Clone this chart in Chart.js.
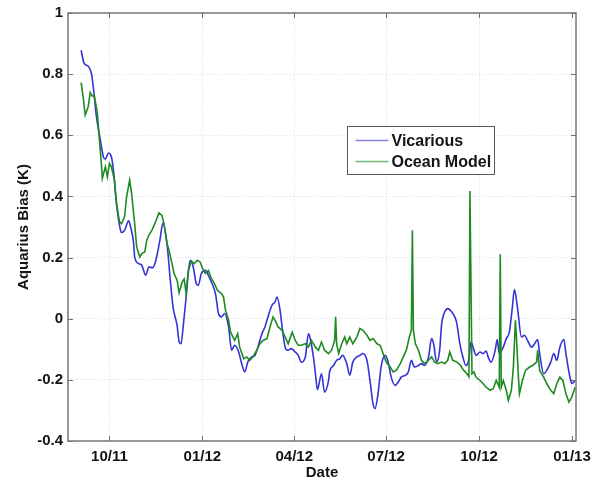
<!DOCTYPE html>
<html>
<head>
<meta charset="utf-8">
<script src="https://cdn.jsdelivr.net/npm/chart.js@4.4.1/dist/chart.umd.min.js"></script>
<style>
  html, body { margin: 0; padding: 0; background: #fff; }
  #wrap { width: 593px; height: 482px; position: relative; }
</style>
</head>
<body>
<div id="wrap"><canvas id="c" width="593" height="482"></canvas></div>
<script>
// Aquarius radiometer bias (K) derived two ways
const seriesNames = ['Vicarious', 'Ocean Model'];

const vicDates = [
  '2011-09-03','2011-09-06','2011-09-10','2011-09-13','2011-09-15','2011-09-18','2011-09-22','2011-09-25','2011-09-27','2011-09-30',
  '2011-10-03','2011-10-05','2011-10-08','2011-10-12','2011-10-13','2011-10-16','2011-10-20','2011-10-22','2011-10-25','2011-10-26','2011-10-30',
  '2011-11-02','2011-11-06','2011-11-09','2011-11-13','2011-11-16','2011-11-20','2011-11-23','2011-11-27','2011-11-30',
  '2011-12-03','2011-12-07','2011-12-09','2011-12-11','2011-12-13','2011-12-16','2011-12-18','2011-12-20','2011-12-23','2011-12-26','2011-12-28','2011-12-31',
  '2012-01-04','2012-01-07','2012-01-10','2012-01-14','2012-01-17','2012-01-20','2012-01-23','2012-01-27','2012-01-30',
  '2012-02-02','2012-02-06','2012-02-09','2012-02-12','2012-02-15','2012-02-19','2012-02-22','2012-02-25','2012-02-29',
  '2012-03-03','2012-03-06','2012-03-10','2012-03-13','2012-03-15','2012-03-18','2012-03-20','2012-03-23','2012-03-26','2012-03-29',
  '2012-04-02','2012-04-05','2012-04-08','2012-04-12','2012-04-15','2012-04-16','2012-04-20','2012-04-22','2012-04-24','2012-04-28',
  '2012-05-01','2012-05-05','2012-05-06','2012-05-10','2012-05-13','2012-05-16','2012-05-19','2012-05-23','2012-05-26','2012-05-29',
  '2012-06-02','2012-06-05','2012-06-08','2012-06-12','2012-06-15','2012-06-18','2012-06-20','2012-06-23','2012-06-26','2012-06-30',
  '2012-07-03','2012-07-06','2012-07-10','2012-07-13','2012-07-16','2012-07-20','2012-07-23','2012-07-26','2012-07-29',
  '2012-08-02','2012-08-05','2012-08-08','2012-08-12','2012-08-15','2012-08-17','2012-08-20','2012-08-23','2012-08-25','2012-08-28','2012-08-31',
  '2012-09-04','2012-09-07','2012-09-09','2012-09-12','2012-09-15','2012-09-18','2012-09-21','2012-09-23','2012-09-26','2012-09-28',
  '2012-10-02','2012-10-05','2012-10-08','2012-10-10','2012-10-13','2012-10-17','2012-10-19','2012-10-21','2012-10-25','2012-10-28','2012-10-31',
  '2012-11-03','2012-11-05','2012-11-08','2012-11-12','2012-11-15','2012-11-18','2012-11-22','2012-11-25','2012-11-28','2012-11-30',
  '2012-12-04','2012-12-07','2012-12-11','2012-12-14','2012-12-17','2012-12-20','2012-12-24','2012-12-26','2012-12-30',
  '2013-01-01','2013-01-04'
];
const vicValues = [
  0.878,0.835,0.826,0.805,0.760,0.665,0.585,0.530,0.522,0.542,
  0.529,0.486,0.377,0.289,0.282,0.289,0.320,0.300,0.246,0.202,0.180,
  0.175,0.142,0.169,0.167,0.191,0.257,0.313,0.246,0.137,
  0.038,-0.022,-0.075,-0.082,-0.027,0.071,0.148,0.191,0.169,0.115,0.109,0.148,
  0.158,0.142,0.120,0.082,0.017,0.006,0.017,-0.027,-0.103,
  -0.087,-0.109,-0.147,-0.174,-0.142,-0.125,-0.120,-0.093,-0.049,
  -0.027,0.006,0.044,0.055,0.071,0.027,-0.027,-0.093,-0.103,-0.098,
  -0.109,-0.120,-0.142,-0.125,-0.049,-0.054,-0.125,-0.180,-0.232,-0.180,
  -0.240,-0.202,-0.174,-0.153,-0.136,-0.131,-0.120,-0.147,-0.185,-0.142,
  -0.125,-0.120,-0.114,-0.136,-0.202,-0.278,-0.294,-0.245,-0.158,-0.120,
  -0.142,-0.191,-0.218,-0.207,-0.191,-0.185,-0.174,-0.136,-0.158,
  -0.153,-0.147,-0.153,-0.125,-0.065,-0.082,-0.142,-0.103,-0.016,0.022,0.033,
  0.022,0.006,-0.016,-0.082,-0.125,-0.153,-0.131,-0.076,-0.103,-0.120,
  -0.109,-0.114,-0.106,-0.125,-0.142,-0.103,-0.068,-0.114,-0.093,-0.065,-0.044,
  0.038,0.095,0.038,-0.060,-0.054,-0.071,-0.093,-0.082,-0.068,-0.114,
  -0.180,-0.169,-0.142,-0.114,-0.136,-0.093,-0.068,-0.114,-0.191,
  -0.212,-0.202
];

const omDates = [
  '2011-09-03','2011-09-05','2011-09-07','2011-09-10','2011-09-12','2011-09-14','2011-09-16','2011-09-19','2011-09-21','2011-09-23','2011-09-24','2011-09-27','2011-09-29',
  '2011-10-01','2011-10-03','2011-10-06','2011-10-08','2011-10-11','2011-10-13','2011-10-16','2011-10-18','2011-10-21','2011-10-23','2011-10-26','2011-10-28','2011-10-31',
  '2011-11-02','2011-11-05','2011-11-07','2011-11-09','2011-11-12','2011-11-15','2011-11-17','2011-11-19','2011-11-22','2011-11-24','2011-11-27','2011-11-29',
  '2011-12-02','2011-12-04','2011-12-07','2011-12-09','2011-12-12','2011-12-14','2011-12-16','2011-12-18','2011-12-21','2011-12-24','2011-12-27','2011-12-30',
  '2012-01-01','2012-01-04','2012-01-07','2012-01-10','2012-01-13','2012-01-16','2012-01-20','2012-01-22','2012-01-24','2012-01-27','2012-01-29',
  '2012-02-02','2012-02-05','2012-02-07','2012-02-11','2012-02-14','2012-02-17','2012-02-20','2012-02-24','2012-02-27',
  '2012-03-01','2012-03-05','2012-03-08','2012-03-11','2012-03-14','2012-03-16','2012-03-20','2012-03-23','2012-03-26','2012-03-30',
  '2012-04-02','2012-04-05','2012-04-08','2012-04-12','2012-04-15','2012-04-18','2012-04-22','2012-04-25','2012-04-28',
  '2012-05-01','2012-05-05','2012-05-08','2012-05-11','2012-05-12','2012-05-13','2012-05-15','2012-05-18','2012-05-21','2012-05-23','2012-05-26','2012-05-29',
  '2012-06-02','2012-06-05','2012-06-08','2012-06-12','2012-06-15','2012-06-18','2012-06-22','2012-06-25','2012-06-28',
  '2012-07-01','2012-07-05','2012-07-08','2012-07-11','2012-07-15','2012-07-18','2012-07-21','2012-07-24','2012-07-26','2012-07-27','2012-07-28','2012-07-30',
  '2012-08-02','2012-08-05','2012-08-08','2012-08-12','2012-08-15','2012-08-18','2012-08-21','2012-08-25','2012-08-28','2012-08-31',
  '2012-09-02','2012-09-05','2012-09-09','2012-09-12','2012-09-15','2012-09-19','2012-09-21','2012-09-22','2012-09-24','2012-09-26','2012-09-28',
  '2012-10-02','2012-10-05','2012-10-08','2012-10-12','2012-10-15','2012-10-18','2012-10-21','2012-10-22','2012-10-23','2012-10-25','2012-10-28','2012-10-30',
  '2012-11-02','2012-11-04','2012-11-06','2012-11-07','2012-11-09','2012-11-10','2012-11-13','2012-11-16','2012-11-20','2012-11-23','2012-11-27','2012-11-28','2012-11-30',
  '2012-12-04','2012-12-07','2012-12-11','2012-12-14','2012-12-17','2012-12-20','2012-12-23','2012-12-26','2012-12-29',
  '2013-01-01','2013-01-04'
];
const omValues = [
  0.772,0.726,0.666,0.693,0.740,0.728,0.730,0.675,0.590,0.508,0.459,0.497,0.464,
  0.508,0.497,0.453,0.377,0.317,0.311,0.333,0.398,0.453,0.409,0.311,0.235,0.202,
  0.213,0.218,0.257,0.273,0.289,0.311,0.328,0.346,0.338,0.311,0.246,0.224,
  0.180,0.148,0.126,0.085,0.120,0.130,0.082,0.155,0.189,0.180,0.191,0.185,
  0.165,0.148,0.158,0.131,0.115,0.093,0.082,0.071,0.027,-0.005,-0.044,
  -0.071,-0.049,-0.093,-0.131,-0.125,-0.136,-0.125,-0.103,-0.082,
  -0.071,-0.065,-0.027,0.006,-0.011,-0.027,-0.038,-0.060,-0.082,-0.044,
  -0.071,-0.087,-0.087,-0.082,-0.093,-0.071,-0.093,-0.103,-0.076,
  -0.103,-0.114,-0.103,-0.071,0.006,-0.082,-0.114,-0.082,-0.060,-0.082,-0.060,-0.082,
  -0.060,-0.032,-0.038,-0.054,-0.071,-0.065,-0.082,-0.087,-0.114,
  -0.142,-0.158,-0.174,-0.169,-0.147,-0.125,-0.103,-0.060,-0.038,0.289,-0.038,-0.082,
  -0.103,-0.136,-0.147,-0.136,-0.125,-0.142,-0.147,-0.142,-0.147,-0.136,
  -0.109,-0.136,-0.142,-0.150,-0.165,-0.180,-0.190,0.418,-0.180,-0.174,-0.191,
  -0.202,-0.212,-0.224,-0.234,-0.229,-0.202,-0.224,0.211,-0.224,-0.202,-0.234,-0.267,
  -0.234,-0.158,-0.005,-0.060,-0.191,-0.245,-0.202,-0.169,-0.158,-0.153,-0.142,-0.103,-0.169,
  -0.191,-0.212,-0.234,-0.245,-0.212,-0.191,-0.202,-0.245,-0.273,
  -0.256,-0.224
];

// Quarterly date ticks and their labels
const tickDates = ['2011-10-01','2012-01-01','2012-04-01','2012-07-01','2012-10-01','2013-01-01'];
const tickLabels = ['10/11','01/12','04/12','07/12','10/12','01/13'];
const axisStart = '2011-08-21';
const axisEnd = '2013-01-05';

const DAY = 86400000;
const dayNum = s => Date.UTC(+s.slice(0, 4), +s.slice(5, 7) - 1, +s.slice(8, 10)) / DAY;
const toPoints = (d, v) => d.map((s, i) => ({ x: dayNum(s), y: v[i] }));

const FONT = '"Liberation Sans", Arial, Helvetica, sans-serif';
const INK = '#141414';

// Box frame, inward tick marks and the inset legend
const framePlugin = {
  id: 'frame',
  afterDatasetsDraw(chart) {
    const { ctx, chartArea: a, scales: { x, y } } = chart;
    ctx.save();
    ctx.lineWidth = 1;
    ctx.strokeStyle = '#6e6e6e';
    const tl = 5;
    ctx.beginPath();
    y.ticks.forEach(t => {
      const py = Math.round(y.getPixelForValue(t.value)) + 0.5;
      ctx.moveTo(a.left, py); ctx.lineTo(a.left + tl, py);
      ctx.moveTo(a.right, py); ctx.lineTo(a.right - tl, py);
    });
    x.ticks.forEach(t => {
      const px = Math.round(x.getPixelForValue(t.value)) + 0.5;
      ctx.moveTo(px, a.bottom); ctx.lineTo(px, a.bottom - tl);
      ctx.moveTo(px, a.top); ctx.lineTo(px, a.top + tl);
    });
    ctx.stroke();
    ctx.lineWidth = 1.5;
    ctx.strokeStyle = '#777';
    ctx.strokeRect(a.left, a.top, a.right - a.left, a.bottom - a.top);

    // legend box
    const w = a.right - a.left, h = a.bottom - a.top;
    const bx = Math.round(a.left + 0.549 * w) + 0.5;
    const by = Math.round(a.top + 0.263 * h) + 0.5;
    const bw = 147, bh = 48;
    ctx.fillStyle = '#fff';
    ctx.fillRect(bx, by, bw, bh);
    ctx.lineWidth = 1;
    ctx.strokeStyle = '#5a5a5a';
    ctx.strokeRect(bx, by, bw, bh);
    ctx.font = 'bold 16px ' + FONT;
    ctx.textBaseline = 'middle';
    ctx.textAlign = 'left';
    chart.data.datasets.forEach((ds, i) => {
      const ly = by + 14 + i * 21;
      ctx.globalAlpha = 0.6;
      ctx.strokeStyle = ds.borderColor;
      ctx.lineWidth = 1.6;
      ctx.beginPath();
      ctx.moveTo(bx + 8, ly); ctx.lineTo(bx + 41, ly);
      ctx.stroke();
      ctx.globalAlpha = 1;
      ctx.fillStyle = INK;
      ctx.fillText(ds.label, bx + 44, ly + 1);
    });
    ctx.restore();
  }
};

new Chart(document.getElementById('c'), {
  type: 'line',
  data: {
    datasets: [
      {
        label: seriesNames[0],
        data: toPoints(vicDates, vicValues),
        borderColor: '#3434d6',
        borderWidth: 1.6,
        pointRadius: 0,
        tension: 0.4,
        cubicInterpolationMode: 'monotone',
        fill: false,
        order: 2
      },
      {
        label: seriesNames[1],
        data: toPoints(omDates, omValues),
        borderColor: '#1e8a22',
        borderWidth: 1.6,
        pointRadius: 0,
        tension: 0,
        fill: false,
        order: 1
      }
    ]
  },
  options: {
    responsive: false,
    animation: false,
    devicePixelRatio: 1,
    layout: { padding: { top: 13, right: 17, left: 0, bottom: 0 } },
    plugins: { legend: { display: false }, tooltip: { enabled: false } },
    scales: {
      x: {
        type: 'linear',
        min: dayNum(axisStart),
        max: dayNum(axisEnd),
        afterBuildTicks: s => { s.ticks = tickDates.map(d => ({ value: dayNum(d) })); },
        afterFit: s => { s.height = 41; s.paddingLeft = 0; s.paddingRight = 0; },
        ticks: {
          autoSkip: false, maxRotation: 0, padding: 7, color: INK,
          font: { family: FONT, size: 15, weight: 'bold' },
          callback: (v, i) => tickLabels[i]
        },
        grid: { color: '#dedede', lineWidth: 1, drawTicks: false },
        border: { display: false, dash: [1, 2] },
        title: {
          display: true, text: 'Date', color: INK,
          font: { family: FONT, size: 15, weight: 'bold' },
          padding: { top: 0, bottom: 0 }
        }
      },
      y: {
        min: -0.4,
        max: 1,
        afterFit: s => { s.width = 68; s.paddingTop = 0; s.paddingBottom = 0; },
        ticks: {
          stepSize: 0.2, padding: 5, color: INK,
          font: { family: FONT, size: 15, weight: 'bold' },
          callback: v => String(+v.toFixed(1))
        },
        grid: { color: '#dedede', lineWidth: 1, drawTicks: false },
        border: { display: false, dash: [1, 2] },
        title: {
          display: true, text: 'Aquarius Bias (K)', color: INK,
          font: { family: FONT, size: 15, weight: 'bold' },
          padding: { top: 15, bottom: 0 }
        }
      }
    }
  },
  plugins: [framePlugin]
});
</script>
</body>
</html>
